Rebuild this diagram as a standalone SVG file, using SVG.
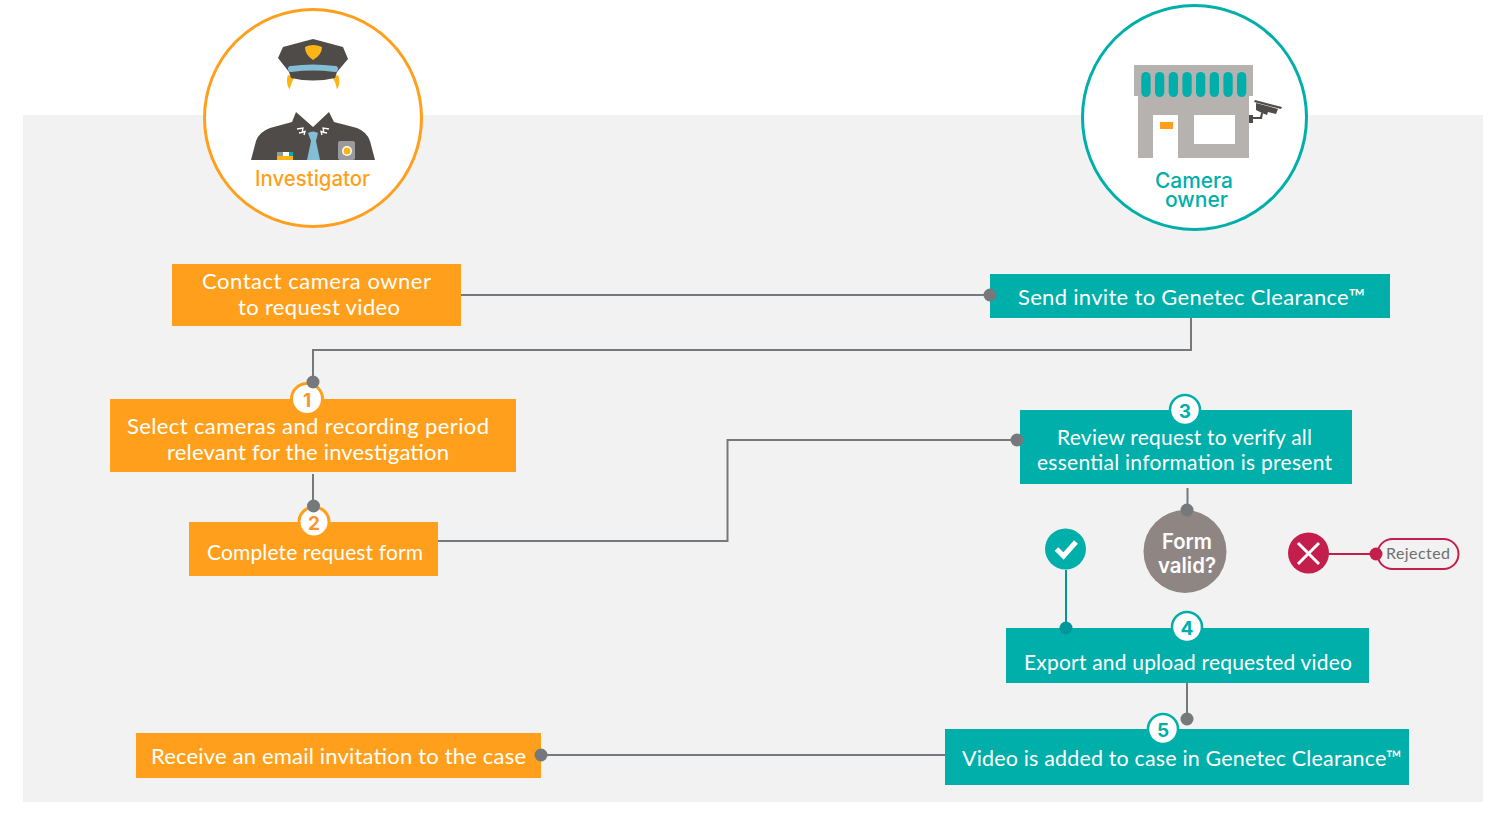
<svg xmlns="http://www.w3.org/2000/svg" width="1508" height="827" viewBox="0 0 1508 827">
<style>
text{font-family:"Lato","Liberation Sans",sans-serif}
.o{fill:#ff9f1c}.t{fill:#00afaa}
.l{font-size:22px;fill:#fff;text-anchor:middle}
.w{fill:none;stroke:#76797c;stroke-width:2}
.d{fill:#76797c}
.bo{fill:#fff;stroke:#ff9f1c;stroke-width:3}
.bt{fill:#fff;stroke:#00afaa;stroke-width:2.500}
.no{font-family:"Inter","Liberation Sans",sans-serif;font-size:19px;font-weight:700;text-anchor:middle;fill:#f7962e}
.nt{font-family:"Inter","Liberation Sans",sans-serif;font-size:19px;font-weight:700;text-anchor:middle;fill:#00afaa}
.h{font-family:"Inter","Liberation Sans",sans-serif;font-size:21px;font-weight:500;text-anchor:middle}
</style>
<rect x="23" y="115" width="1460" height="687" fill="#f2f2f2"/>
<g id="connectors">
<path class="w" d="M461 295H990"/>
<path class="w" d="M1191 318V350H313V382"/>
<path class="w" d="M313 474V506"/>
<path class="w" d="M438 541H727.500V440H1017"/>
<path class="w" d="M1187.500 488V510"/>
<path class="w" d="M1187 683V719"/>
<path class="w" d="M541 755H945"/>
<path d="M1066 570V628" fill="none" stroke="#00979a" stroke-width="2"/>
<path d="M1328 554H1377" fill="none" stroke="#c41e4d" stroke-width="2"/>
</g>
<g id="investigator">
<circle cx="313" cy="118" r="108.500" fill="#fff" stroke="#ff9f1c" stroke-width="3"/>
<path d="M288 75C286 80 287 85 289.500 89.500C291 85 292 81 295 77ZM338 75C340 80 340 85 337 89.500C336 85 335 81 332 77Z" fill="#fdb515"/>
<path d="M278 58L283 47L313 39L343 47L348 59L337 72L335 78Q313 83 291 78L289 72Z" fill="#4f4b48"/>
<path d="M291 69Q313 66 335 69" fill="none" stroke="#83bdd6" stroke-width="6" stroke-linecap="round"/>
<path d="M305 47Q313 43 322 47Q322 55 313 60Q305 55 305 47Z" fill="#fdb515"/>
<path d="M251 160L256 141Q259 132 270 128L292 122L296 112L313 127L329 112L334 122L357 128Q367 132 370 141L375 160Z" fill="#4f4b48"/>
<path d="M308 133Q313 130 318 133L316 141L320 160H307L311 141Z" fill="#83bdd6"/>
<path d="M277 152H293V160H277Z" fill="#fdb515"/>
<path d="M277 152H283V156H277Z" fill="#9a9a9c"/><path d="M283 152H289V156H283Z" fill="#fff"/><path d="M289 152H293V156H289Z" fill="#00afaa"/>
<rect x="338" y="141" width="17" height="19" rx="2" fill="#9a9a9c"/>
<circle cx="347" cy="151" r="5" fill="#fff"/><circle cx="347" cy="151" r="3.500" fill="#fdb515"/>
<path d="M297 129L303 128L302 133M299 133L305 131.500L304 135M329 129L323 128L324 133M327 133L321 131.500L322 135" stroke="#fff" stroke-width="1.300" fill="none"/>
<text class="h" x="312.500" y="186" fill="#ff9f1c" textLength="115" lengthAdjust="spacingAndGlyphs">Investigator</text>
</g>
<g id="camera-owner">
<circle cx="1194.500" cy="117.500" r="112" fill="#fff" stroke="#00afaa" stroke-width="3"/>
<rect x="1134" y="65" width="119" height="31" fill="#b6b2b0"/>
<path d="M1138 96H1249V158H1178V115H1153V158H1138Z" fill="#b6b2b0"/>
<rect x="1194" y="115" width="41" height="29" fill="#fff"/>
<rect x="1160" y="122" width="13" height="7" fill="#ff9f1c"/>
<g class="t">
<rect x="1141.300" y="72" width="9.300" height="25" rx="4.650"/><rect x="1155" y="72" width="9.300" height="25" rx="4.650"/><rect x="1168.700" y="72" width="9.300" height="25" rx="4.650"/><rect x="1182.400" y="72" width="9.300" height="25" rx="4.650"/><rect x="1196" y="72" width="9.300" height="25" rx="4.650"/><rect x="1209.700" y="72" width="9.300" height="25" rx="4.650"/><rect x="1223.400" y="72" width="9.300" height="25" rx="4.650"/><rect x="1237" y="72" width="9.300" height="25" rx="4.650"/>
</g>
<path d="M1255 100L1282 107L1281 109L1254 102ZM1256 103L1278 109L1276 114L1268 112L1267 115L1262 113L1256 110ZM1263 113L1262 119H1253V117H1260L1261 113ZM1249 115H1253V123H1249Z" fill="#4f4b48"/>
<text class="h" x="1194" y="188" fill="#00afaa" textLength="78" lengthAdjust="spacingAndGlyphs">Camera</text>
<text class="h" x="1196.500" y="207" fill="#00afaa" textLength="63" lengthAdjust="spacingAndGlyphs">owner</text>
</g>
<g id="contact"><rect class="o" x="172" y="264" width="289" height="62"/><text class="l" x="316.500" y="289" textLength="229">Contact camera owner</text><text class="l" x="319" y="315" textLength="162">to request video</text></g>
<g id="invite"><rect class="t" x="990" y="274" width="400" height="44"/><text class="l" x="1191.500" y="304.500" textLength="347">Send invite to Genetec Clearance™</text></g>
<g id="select"><rect class="o" x="110" y="399" width="406" height="73"/><text class="l" x="308" y="434" textLength="362">Select cameras and recording period</text><text class="l" x="308" y="459.500" textLength="282">relevant for the investigation</text>
<circle class="bo" cx="307" cy="399" r="15.500"/><text class="no" x="307" y="406.500">1</text></g>
<g id="complete"><rect class="o" x="189" y="522" width="249" height="54"/><text class="l" x="315" y="560" style="font-size:21px" textLength="216">Complete request form</text>
<circle class="bo" cx="314" cy="522" r="15"/><text class="no" x="314" y="529.500">2</text></g>
<g id="review"><rect class="t" x="1020" y="410" width="332" height="74"/><text class="l" x="1184.500" y="445" style="font-size:21px" textLength="255">Review request to verify all</text><text class="l" x="1184.500" y="469.500" style="font-size:21px" textLength="295">essential information is present</text>
<circle class="bt" cx="1185" cy="410" r="15"/><text class="nt" x="1185" y="417.500">3</text></g>
<g id="form-valid"><circle cx="1185" cy="551.500" r="41.500" fill="#8f8583"/><text class="h" x="1187" y="549" style="font-weight:600" fill="#fff" textLength="50" lengthAdjust="spacingAndGlyphs">Form</text><text class="h" x="1187" y="573" style="font-weight:600" fill="#fff" textLength="58" lengthAdjust="spacingAndGlyphs">valid?</text></g>
<g id="valid"><circle class="t" cx="1065.500" cy="549" r="20.500"/><path d="M1056.500 549L1063.500 556L1076 542" fill="none" stroke="#fff" stroke-width="5"/></g>
<g id="invalid"><circle cx="1308.500" cy="553" r="20.500" fill="#c41e4d"/><path d="M1298 543L1319 564M1319 543L1298 564" fill="none" stroke="#fff" stroke-width="3"/></g>
<g id="rejected"><rect x="1377.500" y="539" width="81" height="30" rx="15" fill="#f2f2f2" stroke="#c41e4d" stroke-width="2"/><text x="1418" y="559" font-size="16" fill="#6f6f6f" text-anchor="middle" textLength="64">Rejected</text></g>
<g id="export"><rect class="t" x="1006" y="628" width="363" height="55"/><text class="l" x="1188" y="670" style="font-size:21px" textLength="328">Export and upload requested video</text>
<circle class="bt" cx="1187" cy="627" r="15"/><text class="nt" x="1187" y="634.500">4</text></g>
<g id="added"><rect class="t" x="945" y="729" width="464" height="56"/><text class="l" x="1182" y="766" style="font-size:21.500px" textLength="440">Video is added to case in Genetec Clearance™</text>
<circle class="bt" cx="1163" cy="729" r="15"/><text class="nt" x="1163" y="736.500">5</text></g>
<g id="receive"><rect class="o" x="136" y="733" width="405" height="45"/><text class="l" x="338.500" y="764" textLength="375">Receive an email invitation to the case</text></g>
<g id="dots">
<circle class="d" cx="990" cy="295" r="6.500"/><circle class="d" cx="313" cy="382" r="6.500"/><circle class="d" cx="313.500" cy="506" r="6.500"/><circle class="d" cx="1017" cy="440" r="6.500"/><circle class="d" cx="1187" cy="510" r="6.500"/><circle class="d" cx="1187" cy="719" r="6.500"/><circle class="d" cx="541" cy="755" r="6.500"/>
<circle cx="1066" cy="628" r="6.500" fill="#00979a"/><circle cx="1376" cy="554" r="6.500" fill="#c41e4d"/>
</g>
</svg>
